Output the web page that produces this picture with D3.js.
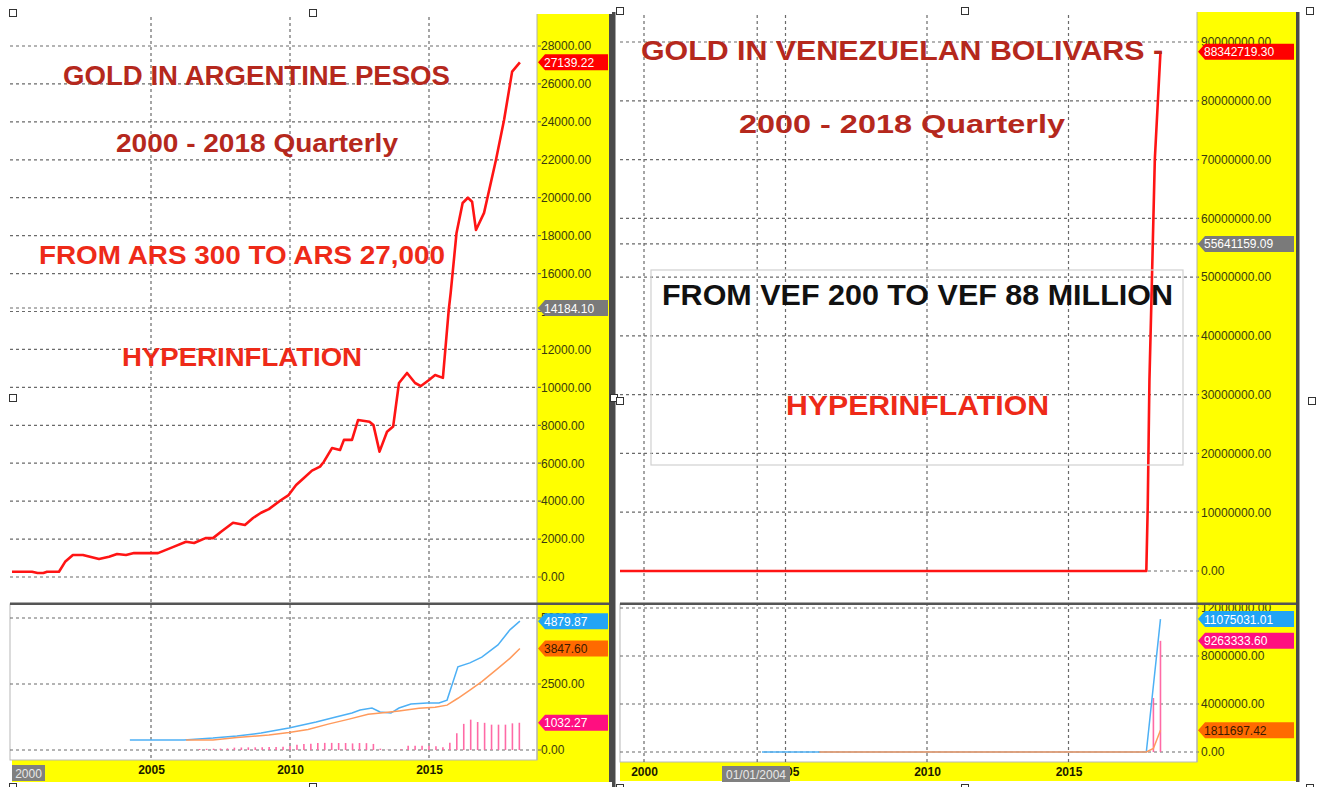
<!DOCTYPE html>
<html>
<head>
<meta charset="utf-8">
<script src="https://cdn.jsdelivr.net/npm/d3@7"></script>
<style>
  body { margin: 0; background: #fff; }
  svg { display: block; }
  text { font-family: "Liberation Sans", Arial, sans-serif; }
</style>
</head>
<body>
<div id="chart"></div>
<script>
// ---- data ----
// gold in ARS, main panel
const arsYears = [2000.00, 2000.72, 2000.92, 2001.13, 2001.26, 2001.69, 2001.91, 2002.19, 2002.55, 2003.13,
  2003.49, 2003.78, 2004.10, 2004.39, 2005.25, 2005.83, 2006.26, 2006.55, 2006.96, 2007.23,
  2007.52, 2007.95, 2008.38, 2008.67, 2008.96, 2009.24, 2009.68, 2009.95, 2010.22, 2010.50,
  2010.79, 2011.08, 2011.22, 2011.51, 2011.80, 2011.94, 2012.23, 2012.45, 2012.86, 2013.00,
  2013.22, 2013.49, 2013.71, 2013.92, 2014.21, 2014.50, 2014.71, 2015.00, 2015.22, 2015.50,
  2015.71, 2015.78, 2015.99, 2016.21, 2016.40, 2016.55, 2016.69, 2016.98, 2017.41, 2017.70,
  2017.99, 2018.27];
const arsGold = [280, 280, 210, 210, 280, 280, 800, 1160, 1160, 950,
  1070, 1210, 1160, 1260, 1260, 1600, 1860, 1790, 2050, 2050,
  2390, 2860, 2740, 3110, 3390, 3580, 4060, 4320, 4850, 5220,
  5610, 5820, 6080, 6800, 6700, 7230, 7230, 8280, 8190, 8020,
  6610, 7660, 7930, 10230, 10760, 10230, 10070, 10390, 10650, 10500,
  14080, 14980, 18140, 19720, 20000, 19790, 18300, 19200, 22000, 24100,
  26650, 27139.22];

// ARS lower panel
const arsBlueYears = [2004.24, 2006.19, 2007.23, 2008.09, 2008.96, 2009.96, 2010.94, 2011.65, 2012.23, 2012.52,
  2012.95, 2013.24, 2013.63, 2013.92, 2014.35, 2014.93, 2015.36, 2015.65, 2016.04, 2016.47,
  2016.90, 2017.48, 2017.91, 2018.27];
const arsBlue = [380, 380, 450, 530, 640, 830, 1060, 1250, 1400, 1515,
  1590, 1440, 1400, 1590, 1740, 1780, 1780, 1890, 3150, 3300,
  3520, 3980, 4550, 4879.87];
const arsOrangeYears = [2006.26, 2007.23, 2008.09, 2009.24, 2009.96, 2010.65, 2011.37, 2012.09, 2012.81, 2013.35,
  2013.92, 2014.64, 2015.22, 2015.65, 2016.04, 2016.47, 2016.90, 2017.48, 2017.91, 2018.27];
const arsOrange = [380, 380, 470, 570, 660, 780, 980, 1160, 1350, 1410,
  1480, 1580, 1620, 1700, 1960, 2270, 2590, 3090, 3470, 3847.60];
const arsBarYears = d3.range(2006.75, 2018.26, 0.25);
const arsBars = [40, 45, 50, 55, 60, 90, 95, 100, 100, 105,
  110, 110, 120, 150, 200, 230, 240, 265, 270, 270,
  265, 265, 250, 265, 260, 230, 50, 10, 5, 30,
  160, 165, 165, 160, 140, 100, 270, 630, 990, 1150,
  1060, 1030, 960, 960, 960, 1010, 1032.27];

// gold in VEF, main panel
const vefYears = [1999.15, 2017.75, 2017.80, 2017.83, 2017.86, 2017.93, 2018.05, 2018.25];
const vefGold = [200, 200, 11000000, 21800000, 32500000, 46000000, 70000000, 88342719.30];

// VEF lower panel
const vefBlueYears = [2004.17, 2017.75, 2018.25];
const vefBlue = [0, 0, 11075031.01];
const vefOrangeYears = [2006.20, 2017.75, 2018.00, 2018.25];
const vefOrange = [0, 0, 300000, 1811697.42];
const vefBarYears = [2018.00, 2018.25];
const vefBars = [4500000, 9263333.60];

// ticks
const arsTicks = d3.range(0, 28001, 2000);
const arsSubTicks = [0, 2500, 5000];
const vefTicks = d3.range(0, 90000001, 10000000);
const vefSubTicks = [0, 4000000, 8000000, 12000000];
const arsYearTicks = [2005, 2010, 2015];
const vefYearTicks = [2000, 2005, 2010, 2015];

const fmt = d3.format(".2f");
const gridColor = "#6a6a6a";

const svg = d3.select("#chart").append("svg")
  .attr("width", 1319).attr("height", 787);

const defs = svg.append("defs");

function panel(cfg) {
  const g = svg.append("g");
  const x = d3.scaleLinear().domain([2000, 2015]).range(cfg.xRange);
  const y = d3.scaleLinear().domain(cfg.mainDomain).range(cfg.mainRange);
  const ys = d3.scaleLinear().domain(cfg.subDomain).range(cfg.subRange);

  // yellow axis column and bottom strip
  g.append("rect").attr("x", cfg.plotR).attr("y", cfg.top)
    .attr("width", cfg.axisR - cfg.plotR).attr("height", cfg.stripBottom - cfg.top).attr("fill", "#ffff00");
  g.append("rect").attr("x", cfg.stripL).attr("y", cfg.bottom)
    .attr("width", cfg.axisR - cfg.stripL).attr("height", cfg.stripBottom - cfg.bottom).attr("fill", "#ffff00");
  g.append("rect").attr("x", cfg.plotL).attr("y", cfg.sepY)
    .attr("width", cfg.plotR - cfg.plotL).attr("height", cfg.bottom - cfg.sepY)
    .attr("fill", "#fff").attr("stroke", "#b8b8b8");

  // vertical grid
  g.append("g").selectAll("line").data(cfg.vGrid).join("line")
    .attr("x1", d => x(d)).attr("x2", d => x(d))
    .attr("y1", cfg.top + 3).attr("y2", cfg.bottom)
    .attr("stroke", gridColor).attr("stroke-dasharray", "3,3").attr("stroke-width", 1.2);

  // horizontal grids (main + sub)
  g.append("g").selectAll("line").data(cfg.mainTicks.concat(cfg.extraLines)).join("line")
    .attr("x1", cfg.plotL).attr("x2", cfg.plotR + 4)
    .attr("y1", d => y(d)).attr("y2", d => y(d))
    .attr("stroke", gridColor).attr("stroke-dasharray", "3,3").attr("stroke-width", 1.2);
  g.append("g").selectAll("line").data(cfg.subTicks).join("line")
    .attr("x1", cfg.plotL).attr("x2", cfg.plotR + 4)
    .attr("y1", d => ys(d)).attr("y2", d => ys(d))
    .attr("stroke", gridColor).attr("stroke-dasharray", "3,3").attr("stroke-width", 1.2);

  // y axes
  const axMain = g.append("g").attr("transform", `translate(${cfg.plotR},0)`)
    .call(d3.axisRight(y).tickValues(cfg.mainTicks).tickFormat(fmt).tickSize(0).tickPadding(4));
  const axSub = g.append("g").attr("transform", `translate(${cfg.plotR},0)`)
    .call(d3.axisRight(ys).tickValues(cfg.subTicks).tickFormat(fmt).tickSize(0).tickPadding(4));
  [axMain, axSub].forEach(a => {
    a.select(".domain").remove();
    a.selectAll("text").attr("font-size", 12).attr("fill", "#3a3a10")
      .attr("font-family", "'Liberation Sans', Arial, sans-serif");
  });
  g.append("line").attr("x1", cfg.plotR).attr("x2", cfg.plotR)
    .attr("y1", cfg.top).attr("y2", cfg.bottom).attr("stroke", "#b0b0b0");

  // x axis labels in the strip
  const axX = g.append("g").attr("transform", `translate(0,${cfg.bottom + 2})`)
    .call(d3.axisBottom(x).tickValues(cfg.yearTicks).tickFormat(d3.format("d")).tickSize(0).tickPadding(3));
  axX.select(".domain").remove();
  axX.selectAll("text").attr("font-size", 12).attr("font-weight", "bold").attr("fill", "#1a1a00")
    .attr("font-family", "'Liberation Sans', Arial, sans-serif");

  // separators
  g.append("rect").attr("x", cfg.plotL).attr("y", cfg.sepY - 1.5)
    .attr("width", cfg.axisR - cfg.plotL).attr("height", 2.5).attr("fill", "#555");

  // clips
  defs.append("clipPath").attr("id", cfg.id + "m").append("rect")
    .attr("x", cfg.plotL).attr("y", cfg.top).attr("width", cfg.plotR - cfg.plotL).attr("height", cfg.sepY - cfg.top - 2);
  defs.append("clipPath").attr("id", cfg.id + "s").append("rect")
    .attr("x", cfg.plotL).attr("y", cfg.sepY + 1).attr("width", cfg.plotR - cfg.plotL).attr("height", cfg.bottom - cfg.sepY - 1);

  // lower panel: bars and lines
  const sub = g.append("g").attr("clip-path", `url(#${cfg.id}s)`);
  sub.selectAll("line.bar").data(cfg.barYears).join("line").attr("class", "bar")
    .attr("x1", d => x(d)).attr("x2", d => x(d))
    .attr("y1", ys(0)).attr("y2", (d, i) => ys(cfg.bars[i]))
    .attr("stroke", "#ff6aa6").attr("stroke-width", 1.6);
  const subLine = (yrs, vals) => d3.line().x((d, i) => x(yrs[i])).y((d, i) => ys(vals[i]))(vals);
  sub.append("path").attr("d", subLine(cfg.blueYears, cfg.blue))
    .attr("fill", "none").attr("stroke", "#4db0f5").attr("stroke-width", 1.5);
  sub.append("path").attr("d", subLine(cfg.orangeYears, cfg.orange))
    .attr("fill", "none").attr("stroke", "#ff9a5c").attr("stroke-width", 1.5);

  // main line
  g.append("g").attr("clip-path", `url(#${cfg.id}m)`).append("path")
    .attr("d", d3.line().x((d, i) => x(cfg.years[i])).y((d, i) => y(cfg.gold[i]))(cfg.gold))
    .attr("fill", "none").attr("stroke", "#ff1414").attr("stroke-width", 2.6).attr("stroke-linejoin", "round");

  // price tags
  const tag = (val, scale, bg, fg) => {
    const yy = scale(val), x0 = cfg.plotR + 1, x1 = cfg.tagR;
    g.append("path")
      .attr("d", `M${x0},${yy} L${x0 + 7},${yy - 8} L${x1},${yy - 8} L${x1},${yy + 8} L${x0 + 7},${yy + 8} Z`)
      .attr("fill", bg);
    g.append("text").attr("x", x0 + 6).attr("y", yy + 4.5).attr("font-size", 12)
      .attr("fill", fg).text(fmt(val));
  };
  cfg.tags.forEach(t => tag(t[0], t[1] === "m" ? y : ys, t[2], t[3]));

  // outer dark borders
  cfg.borders.forEach(b => g.append("rect").attr("x", b[0]).attr("y", b[1])
    .attr("width", b[2]).attr("height", b[3]).attr("fill", "#4a4a4a"));

  return { x, y, g };
}

const left = panel({
  id: "ars", xRange: [12, 429], plotL: 10, plotR: 537, axisR: 610, tagR: 608,
  top: 14, sepY: 604, bottom: 760, stripBottom: 782, stripL: 12,
  mainDomain: [0, 28000], mainRange: [577, 46],
  subDomain: [0, 5000], subRange: [750, 618],
  mainTicks: arsTicks, subTicks: arsSubTicks, extraLines: [14184.10],
  vGrid: arsYearTicks, yearTicks: arsYearTicks,
  years: arsYears, gold: arsGold,
  blueYears: arsBlueYears, blue: arsBlue, orangeYears: arsOrangeYears, orange: arsOrange,
  barYears: arsBarYears, bars: arsBars,
  tags: [[27139.22, "m", "#ff0000", "#fff"], [14184.10, "m", "#7a7a7a", "#fff"],
         [4879.87, "s", "#22a4f5", "#fff"], [3847.60, "s", "#ff6a00", "#3a1a00"],
         [1032.27, "s", "#ff0f80", "#fff"]],
  borders: [[609, 14, 4, 768]]
});

const right = panel({
  id: "vef", xRange: [644, 1068.5], plotL: 620, plotR: 1197, axisR: 1296, tagR: 1294,
  top: 12, sepY: 604, bottom: 762, stripBottom: 781, stripL: 620,
  mainDomain: [0, 90000000], mainRange: [571, 42],
  subDomain: [0, 12000000], subRange: [752, 608],
  mainTicks: vefTicks, subTicks: vefSubTicks, extraLines: [55641159.09],
  vGrid: [2000, 2004, 2005, 2010, 2015], yearTicks: vefYearTicks,
  years: vefYears, gold: vefGold,
  blueYears: vefBlueYears, blue: vefBlue, orangeYears: vefOrangeYears, orange: vefOrange,
  barYears: vefBarYears, bars: vefBars,
  tags: [[88342719.30, "m", "#ff0000", "#fff"], [55641159.09, "m", "#7a7a7a", "#fff"],
         [11075031.01, "s", "#22a4f5", "#fff"], [9263333.60, "s", "#ff0f80", "#fff"],
         [1811697.42, "s", "#ff6a00", "#3a1a00"]],
  borders: [[612, 12, 3.5, 775], [1296, 12, 3.5, 770]]
});

// cursor date boxes
function cursorBox(x0, x1, y0, label) {
  svg.append("rect").attr("x", x0).attr("y", y0).attr("width", x1 - x0).attr("height", 16).attr("fill", "#808080");
  svg.append("text").attr("x", (x0 + x1) / 2).attr("y", y0 + 12.5).attr("text-anchor", "middle")
    .attr("font-size", 12).attr("fill", "#e8e8e8").text(label);
}
cursorBox(12, 45, 765, "2000");
cursorBox(722, 790, 766, "01/01/2004");

// annotation text
const dark = "#b5281d", bright = "#ee2a18";
function note(x0, x1, base, size, color, str) {
  svg.append("text").attr("x", x0).attr("y", base).attr("font-size", size)
    .attr("font-weight", "bold").attr("fill", color)
    .attr("textLength", x1 - x0).attr("lengthAdjust", "spacingAndGlyphs").text(str);
}
note(63, 450, 85, 27, dark, "GOLD IN ARGENTINE PESOS");
note(116, 398, 152, 26, dark, "2000 - 2018 Quarterly");
note(39, 445, 264, 25, bright, "FROM ARS 300 TO ARS 27,000");
note(122, 362, 366, 25, bright, "HYPERINFLATION");

svg.append("rect").attr("x", 651).attr("y", 270).attr("width", 532).attr("height", 195)
  .attr("fill", "none").attr("stroke", "#d0d0d0").attr("stroke-width", 1.2);
note(641, 1163, 60, 27, dark, "GOLD IN VENEZUELAN BOLIVARS -");
note(739, 1065, 133, 25, dark, "2000  - 2018  Quarterly");
note(662, 1173, 305, 29, "#111", "FROM VEF 200 TO VEF 88 MILLION");
note(786, 1049, 415, 27, bright, "HYPERINFLATION");

// selection handles
const handles = [[13, 13], [313, 13], [620, 11], [965, 11], [1310, 11],
  [13, 398], [614, 398], [620, 401], [1312, 401],
  [13, 787], [313, 787], [620, 788], [965, 788], [1310, 788]];
svg.append("g").selectAll("rect").data(handles).join("rect")
  .attr("x", d => d[0] - 3.5).attr("y", d => d[1] - 3.5).attr("width", 7).attr("height", 7)
  .attr("fill", "#fff").attr("stroke", "#333").attr("stroke-width", 1);
</script>
</body>
</html>
